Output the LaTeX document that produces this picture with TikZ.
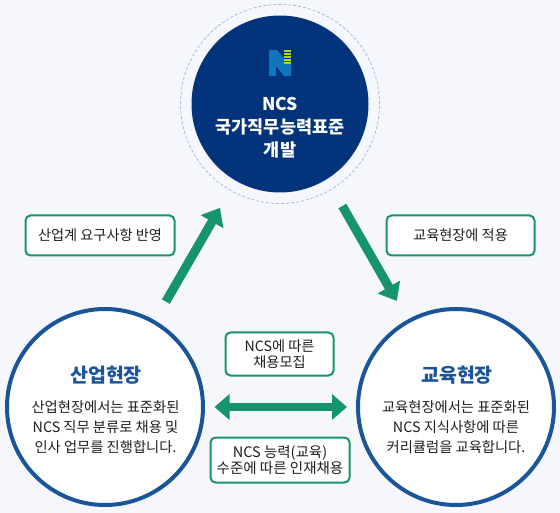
\documentclass[tikz,border=0pt]{standalone}
\usepackage{fontspec}
\setmainfont{Noto Sans CJK KR}
\usetikzlibrary{arrows.meta}
\definecolor{bgcol}{HTML}{F5F7FC}
\definecolor{navycol}{HTML}{03337A}
\definecolor{ringcol}{HTML}{1A5599}
\definecolor{dashcol}{HTML}{9DB4D8}
\definecolor{greencol}{HTML}{16936F}
\definecolor{logoblue}{HTML}{0F75BC}
\definecolor{logolime}{HTML}{B5CF2A}
\begin{document}
\begin{tikzpicture}[
  x=1pt, y=-1pt,
  topcircle/.style={circle, fill=navycol, minimum size=177pt, inner sep=0pt, outer sep=0pt},
  dashring/.style={circle, draw=dashcol, densely dashed, line width=0.7pt, minimum size=199pt, inner sep=0pt, outer sep=0pt},
  sitecircle/.style={circle, draw=ringcol, line width=4pt, fill=white, minimum size=196pt, inner sep=0pt, outer sep=0pt},
  toptext/.style={font=\fontsize{17.5}{23}\selectfont\bfseries, text=white, align=center},
  sitetitle/.style={font=\fontsize{19.5}{22}\selectfont\bfseries, text=ringcol, align=center},
  sitetext/.style={font=\fontsize{14.3}{20}\selectfont, text=black!88, align=center},
  notebox/.style={rectangle, draw=greencol, line width=2pt, rounded corners=5pt, fill=white, align=center,
    inner sep=0pt, outer sep=0pt, font=\fontsize{14.2}{16.5}\selectfont, text=black!88},
  arr/.style={-{Triangle[length=16pt,width=25pt]}, line width=9pt, greencol},
  dblarr/.style={{Triangle[length=15pt,width=25pt]}-{Triangle[length=15pt,width=25pt]}, line width=8pt, greencol}
]

% Background
\fill[bgcol] (0,0) rectangle (560,513);
\useasboundingbox (0,0) rectangle (560,513);

% Top circle
\node[dashring] (ring) at (280,104) {};
\node[topcircle] (ncs) at (280,104) {};
\node[toptext] (ncstext) at (280,128) {NCS\\국가직무능력표준\\개발};

% Logo
\fill[logoblue] (269,50) -- (277,50) -- (291,67) -- (291,76) -- (284,76) -- (276,66) -- (276,76) -- (269,76) -- cycle;
\fill[logoblue] (284,61) rectangle (291,76);
\foreach \y in {50,53,56,59,62}
  \fill[logolime] (284,\y) rectangle (291,\y+1.6);

% Site circles
\node[sitecircle] (sanup) at (105,407) {};
\node[sitecircle] (gyoyuk) at (456,407) {};
\node[sitetitle] (sanuptitle) at (106,375) {산업현장};
\node[sitetext] (sanuptext) at (105.5,427) {산업현장에서는 표준화된\\NCS 직무 분류로 채용 및\\인사 업무를 진행합니다.};
\node[sitetitle] (gyoyuktitle) at (457,375) {교육현장};
\node[sitetext] (gyoyuktext) at (456,427) {교육현장에서는 표준화된\\NCS 지식사항에 따른\\커리큘럼을 교육합니다.};

% Note boxes
\node[notebox, minimum width=149pt, minimum height=40pt] (reflect) at (100,235.5) {산업계 요구사항 반영};
\node[notebox, minimum width=148pt, minimum height=40pt] (apply) at (460.5,235.5) {교육현장에 적용};
\node[notebox, minimum width=108pt, minimum height=43pt] (recruit) at (279.5,354) {NCS에 따른\\채용모집};
\node[notebox, minimum width=139pt, minimum height=45pt, font=\fontsize{14.5}{16.5}\selectfont] (hire) at (280,460) {NCS 능력(교육)\\수준에 따른 인재채용};

% Arrows
\draw[arr, shorten <=23.7pt, shorten >=31.4pt] (sanup) -- (ncs);
\draw[arr, shorten <=31.1pt, shorten >=23.5pt] (ncs.-58.6) -- (gyoyuk.119.6);
\draw[dblarr, shorten <=11.5pt, shorten >=11pt] (sanup.east) -- (gyoyuk.west);

\end{tikzpicture}
\end{document}
